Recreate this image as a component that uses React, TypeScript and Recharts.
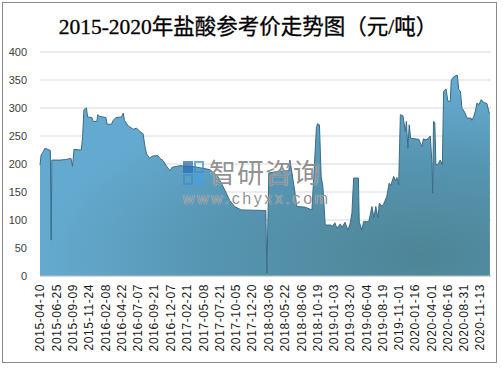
import React from "react";
import { AreaChart, Area, XAxis, YAxis, CartesianGrid } from "recharts";

// sampled points of the hydrochloric acid reference price (元/吨)
const dates = [
  "2015-04-10", "2015-04-15", "2015-04-22", "2015-05-03", "2015-05-17", "2015-05-28", "2015-06-01", "2015-06-04", "2015-07-12", "2015-08-08",
  "2015-09-01", "2015-09-08", "2015-09-15", "2015-10-19", "2015-10-25", "2015-10-31", "2015-11-12", "2015-11-17", "2015-12-07", "2015-12-13",
  "2015-12-30", "2016-01-03", "2016-01-13", "2016-02-10", "2016-02-16", "2016-03-07", "2016-03-15", "2016-03-28", "2016-04-23", "2016-05-01",
  "2016-05-06", "2016-05-24", "2016-06-16", "2016-07-02", "2016-07-17", "2016-08-01", "2016-08-09", "2016-08-17", "2016-09-02", "2016-09-11",
  "2016-10-09", "2016-10-18", "2016-11-02", "2016-11-18", "2016-12-04", "2016-12-13", "2017-01-19", "2017-03-30", "2017-06-07", "2017-07-14",
  "2017-08-15", "2017-09-07", "2017-09-30", "2017-10-31", "2018-02-13", "2018-02-22", "2018-02-27", "2018-03-08", "2018-04-05", "2018-05-22",
  "2018-06-09", "2018-06-14", "2018-06-21", "2018-07-07", "2018-07-16", "2018-08-23", "2018-09-24", "2018-10-02", "2018-10-15", "2018-10-20",
  "2018-10-29", "2018-11-06", "2018-11-14", "2018-11-25", "2018-12-22", "2018-12-26", "2019-01-09", "2019-01-18", "2019-02-03", "2019-02-11",
  "2019-02-25", "2019-03-10", "2019-03-20", "2019-03-29", "2019-04-06", "2019-04-28", "2019-05-02", "2019-05-14", "2019-05-22", "2019-06-15",
  "2019-06-22", "2019-06-30", "2019-07-09", "2019-07-18", "2019-07-28", "2019-08-03", "2019-08-15", "2019-08-23", "2019-09-07", "2019-09-18",
  "2019-09-26", "2019-10-09", "2019-10-17", "2019-10-24", "2019-11-01", "2019-11-09", "2019-11-21", "2019-12-02", "2019-12-07", "2019-12-14",
  "2019-12-20", "2019-12-27", "2020-01-16", "2020-02-03", "2020-02-17", "2020-02-24", "2020-03-07", "2020-03-18", "2020-03-27", "2020-04-04",
  "2020-04-07", "2020-04-11", "2020-04-17", "2020-04-22", "2020-05-01", "2020-05-12", "2020-05-22", "2020-05-28", "2020-06-08", "2020-06-17",
  "2020-06-28", "2020-07-02", "2020-07-09", "2020-07-24", "2020-07-31", "2020-08-06", "2020-08-14", "2020-08-21", "2020-09-05", "2020-09-13",
  "2020-10-02", "2020-10-06", "2020-10-14", "2020-10-22", "2020-10-30", "2020-11-08", "2020-11-19", "2020-11-29", "2020-12-15", "2020-12-26",
  "2020-12-29",
];

const prices = [
  198, 216, 220, 228, 226, 224, 64, 207, 207, 208,
  210, 196, 226, 225, 249, 297, 300, 284, 283, 276,
  276, 288, 285, 283, 271, 271, 278, 283, 284, 291,
  278, 268, 262, 264, 258, 254, 232, 218, 210, 214,
  215, 210, 206, 196, 188, 194, 197, 195, 190, 178,
  154, 135, 124, 118, 117, 117, 5, 184, 186, 188,
  188, 207, 190, 150, 124, 123, 118, 172, 265, 272,
  270, 178, 160, 91, 91, 88, 95, 85, 93, 87,
  96, 82, 93, 112, 175, 175, 97, 82, 97, 97,
  109, 124, 104, 124, 104, 130, 125, 128, 142, 166,
  162, 178, 170, 176, 163, 288, 286, 258, 276, 228,
  270, 246, 245, 244, 231, 245, 243, 246, 250, 200,
  148, 276, 274, 199, 199, 207, 199, 330, 334, 312,
  312, 348, 354, 358, 358, 333, 330, 300, 291, 282,
  282, 278, 284, 294, 309, 306, 315, 310, 308, 291,
  290,
];

const tickDates = [
  "2015-04-10", "2015-06-25", "2015-09-09", "2015-11-24", "2016-02-08", "2016-04-22", "2016-07-07",
  "2016-09-21", "2016-12-07", "2017-02-21", "2017-05-08", "2017-07-21", "2017-10-05", "2017-12-20",
  "2018-03-06", "2018-05-22", "2018-08-06", "2018-10-19", "2019-01-03", "2019-03-20", "2019-06-04",
  "2019-08-19", "2019-11-01", "2020-01-16", "2020-04-01", "2020-06-16", "2020-08-31", "2020-11-13",
];

const yTicks = [0, 50, 100, 150, 200, 250, 300, 350, 400];
const xStart = "2015-04-10";
const xEnd = "2021-01-03";

const data = dates.map((d, i) => ({ t: Date.parse(d), v: prices[i] }));
const xTicks = tickDates.map((d) => Date.parse(d));

const fmtDate = (v: number) => new Date(v).toISOString().slice(0, 10);

const XTick = ({ x, y, payload }: any) => (
  <text
    x={x}
    y={y}
    transform={`rotate(-90 ${x} ${y})`}
    textAnchor="end"
    dy="0.36em"
    fontSize={12}
    letterSpacing={0.6}
    fontFamily='"Liberation Sans", Arial, sans-serif'
    fill="#1a1a1a"
  >
    {fmtDate(payload.value)}
  </text>
);

const YTick = ({ y, payload }: any) => (
  <text
    x={27}
    y={y}
    textAnchor="end"
    dy="0.35em"
    fontSize={11}
    fontFamily='"Liberation Sans", Arial, sans-serif'
    fill="#404040"
  >
    {payload.value}
  </text>
);

export default function App() {
  return (
    <div
      style={{
        position: "absolute",
        left: 0,
        top: 0,
        width: 503,
        height: 370,
        background: "#fff",
        overflow: "hidden",
      }}
    >
      <div
        style={{
          position: "absolute",
          left: 2,
          top: 2,
          width: 493,
          height: 359,
          border: "1.5px solid #8a8a8a",
        }}
      />
      <div
        style={{
          position: "absolute",
          left: 0,
          top: 14,
          width: 496,
          textAlign: "center",
          fontSize: 21.5,
          lineHeight: "26px",
          fontFamily: '"Liberation Serif", "Noto Sans CJK SC", serif',
          color: "#000",
          WebkitTextStroke: "0.3px #000",
        }}
      >
        2015-2020年盐酸参考价走势图（元/吨）
      </div>
      <div style={{ position: "absolute", left: 0, top: 0 }}>
        <AreaChart
          width={503}
          height={370}
          data={data}
          margin={{ top: 52, right: 12, left: 0, bottom: 14 }}
        >
          <defs>
            <radialGradient id="hclFill" cx="0.85" cy="0.9" r="0.85">
              <stop offset="0%" stopColor="#4d8596" />
              <stop offset="55%" stopColor="#5695b1" />
              <stop offset="100%" stopColor="#64aad0" />
            </radialGradient>
          </defs>
          <CartesianGrid vertical={false} stroke="#d9d9d9" />
          <XAxis
            type="number"
            dataKey="t"
            domain={[Date.parse(xStart), Date.parse(xEnd)]}
            ticks={xTicks}
            interval={0}
            height={80}
            tickLine={false}
            axisLine={{ stroke: "#bfbfbf" }}
            tick={<XTick />}
          />
          <YAxis
            width={40}
            domain={[0, 400]}
            ticks={yTicks}
            interval={0}
            axisLine={false}
            tickLine={false}
            tick={<YTick />}
          />
          <Area
            type="linear"
            dataKey="v"
            stroke="#3b6b85"
            strokeWidth={1}
            fill="url(#hclFill)"
            fillOpacity={1}
            dot={false}
            activeDot={false}
            isAnimationActive={false}
          />
        </AreaChart>
      </div>
      {/* watermark */}
      <div style={{ position: "absolute", left: 183, top: 160, opacity: 0.75 }}>
        <div style={{ position: "absolute", left: 0, top: 1, width: 10, height: 12, background: "#2f6db0" }} />
        <div style={{ position: "absolute", left: 11, top: 1, width: 10, height: 12, border: "2px solid #3d8fd0", boxSizing: "border-box" }} />
        <div style={{ position: "absolute", left: 0, top: 14, width: 10, height: 11, border: "2px solid #3d8fd0", boxSizing: "border-box" }} />
        <div style={{ position: "absolute", left: 11, top: 14, width: 10, height: 11, background: "#4a9ee0" }} />
      </div>
      <div
        style={{
          position: "absolute",
          left: 209,
          top: 158,
          fontSize: 27,
          lineHeight: "28px",
          letterSpacing: 1,
          fontFamily: '"Noto Sans CJK SC", sans-serif',
          color: "rgba(95,95,95,0.7)",
          textShadow: "0 0 1px #fff",
          whiteSpace: "nowrap",
        }}
      >
        智研咨询
      </div>
      <div
        style={{
          position: "absolute",
          left: 183,
          top: 190,
          fontSize: 16,
          lineHeight: "17px",
          letterSpacing: 2.6,
          fontFamily: '"Liberation Sans", Arial, sans-serif',
          color: "rgba(95,95,95,0.7)",
          textShadow: "0 0 1px #fff",
          whiteSpace: "nowrap",
        }}
      >
        www.chyxx.com
      </div>
    </div>
  );
}
